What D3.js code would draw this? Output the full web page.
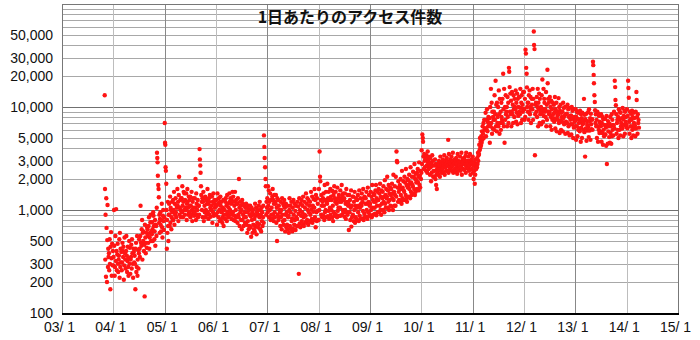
<!DOCTYPE html>
<html>
<head>
<meta charset="utf-8">
<script src="https://cdn.jsdelivr.net/npm/d3@7"></script>
<style>
  body { margin: 0; background: #fff; }
  svg { display: block; }
  .tick text { font-family: "Liberation Sans", Arial, sans-serif; font-size: 14px; fill: #111; }
</style>
</head>
<body>
<div id="chart"></div>
<script>
// daily access counts (sample days per month)
const title = '1日あたりのアクセス件数'

const counts2003 = [ // starts in Nov
  [13000, 1600, 330, 900, 225, 1300, 670, 200, 510, 1120, 280, 420, 350],
  [380, 260, 520, 300, 170, 440, 610, 340, 230, 470, 290, 400]
]
const counts2004 = [
  [290, 350, 1000, 450, 230, 280, 560, 320, 1020, 400, 260, 370],
  [470, 300, 250, 330, 360, 520, 220, 600, 280, 420, 310, 390],
  [260, 310, 480, 400, 350, 440, 210, 290, 540, 380, 330, 270],
  [400, 560, 360, 250, 320, 440, 280, 230, 340, 500, 300, 430],
  [240, 330, 350, 460, 270, 520, 380, 300, 220, 420, 390, 310],
  [360, 300, 170, 420, 480, 250, 280, 560, 230, 330, 410, 270],
  [380, 520, 420, 350, 560, 1100, 480, 450, 650, 800, 330, 600],
  [500, 620, 400, 460, 145, 720, 540, 380, 480, 600, 430, 680],
  [650, 560, 480, 700, 850, 420, 540, 600, 760, 900, 500, 620],
  [580, 760, 650, 500, 950, 880, 700, 520, 620, 800, 450, 720],
  [700, 560, 1050, 3600, 3200, 2900, 2150, 1750, 1600, 1330, 750, 900, 600, 820],
  [950, 720, 620, 800, 1150, 680, 540, 880, 1000, 780, 640, 850]
]
const counts2005 = [
  [7000, 4500, 4300, 2600, 2400, 1800, 1000, 420, 800, 600, 1200, 700, 500, 900],
  [1150, 900, 700, 1350, 750, 1050, 1000, 650, 850, 1200, 950, 800],
  [1250, 800, 1000, 1500, 720, 1150, 900, 1300, 950, 850, 1100, 1050],
  [1600, 1100, 1200, 780, 1400, 2100, 900, 1050, 1250, 1000, 850, 1300],
  [1300, 950, 1700, 1100, 850, 1200, 1500, 1000, 1450, 900, 1250, 1050],
  [1000, 1450, 800, 1150, 1600, 1200, 1050, 900, 1350, 950, 1250, 1100],
  [1350, 850, 1100, 900, 1500, 1000, 780, 1200, 1300, 950, 1050, 880],
  [950, 1300, 1050, 2000, 800, 1450, 1150, 900, 1000, 1250, 850, 1100],
  [1100, 900, 3900, 3100, 2700, 2300, 1700, 1400, 1200, 1000, 1300, 850],
  [1200, 1500, 780, 1300, 1100, 950, 1350, 850, 1000, 1250, 900, 1150],
  [1600, 950, 1150, 820, 1300, 1200, 900, 1400, 1050, 860, 1000, 1100],
  [1000, 1350, 750, 1200, 950, 1450, 880, 1150, 1250, 1050, 900, 1100]
]
const counts2006 = [
  [900, 1250, 1100, 720, 1450, 950, 1150, 850, 1300, 1000, 780, 1200],
  [1350, 1100, 800, 1200, 950, 1000, 750, 850, 1050, 1250, 700, 900],
  [1250, 1000, 820, 1200, 1300, 900, 1100, 780, 1400, 950, 1150, 850],
  [1050, 880, 1450, 1200, 1000, 1300, 950, 1150, 820, 1250, 900, 1500],
  [950, 1350, 800, 1200, 1100, 880, 1500, 780, 1000, 1250, 850, 1150],
  [1150, 750, 1300, 900, 850, 2000, 1050, 700, 1200, 950, 1100, 800],
  [1000, 650, 1250, 800, 1150, 900, 700, 1100, 850, 950, 750, 1050],
  [850, 1150, 720, 1050, 600, 950, 780, 1100, 650, 1000, 700, 900],
  [1100, 680, 870, 550, 1050, 800, 950, 600, 1000, 720, 900, 650],
  [820, 620, 1150, 700, 880, 1050, 580, 950, 750, 1000, 680, 900],
  [1100, 730, 850, 1200, 650, 1000, 900, 620, 1050, 780, 950, 700],
  [850, 1100, 750, 5300, 4100, 3200, 2600, 2000, 1700, 900, 1200, 1050]
]
const counts2007 = [
  [1300, 950, 1700, 1100, 1550, 850, 1200, 1000, 1450, 800, 1250, 900],
  [1050, 820, 1350, 1600, 900, 1250, 780, 1150, 1400, 950, 850, 1200],
  [1150, 1400, 750, 1050, 500, 1300, 900, 1250, 800, 1100, 850, 1000],
  [950, 700, 1200, 850, 1000, 650, 1300, 900, 780, 1150, 720, 1100],
  [1250, 800, 1050, 620, 900, 1150, 680, 950, 720, 1100, 650, 850],
  [880, 600, 1000, 1300, 700, 1100, 950, 650, 1200, 780, 830, 620],
  [1050, 660, 1250, 900, 720, 1150, 800, 980, 640, 1100, 850, 700],
  [820, 1200, 700, 1080, 920, 240, 1300, 740, 1000, 680, 1150, 880],
  [1250, 780, 950, 1100, 720, 1350, 850, 700, 1200, 900, 1050, 760],
  [880, 1450, 750, 1150, 800, 1300, 1000, 720, 1250, 950, 1100, 780],
  [1200, 900, 770, 1500, 1020, 820, 1350, 750, 1100, 960, 1280, 800],
  [1050, 1600, 850, 1250, 680, 1400, 950, 780, 1300, 980, 1150, 800]
]
const counts2008 = [
  [800, 1600, 1000, 3700, 2100, 1900, 1250, 900, 1400, 1100, 850, 1200],
  [1300, 880, 1450, 1100, 800, 1750, 950, 1250, 1000, 1500, 850, 1200],
  [1150, 1800, 870, 1300, 980, 1500, 820, 1250, 1050, 1600, 900, 1350],
  [1000, 1250, 840, 1530, 1100, 780, 1400, 950, 1700, 880, 1300, 1200],
  [1500, 900, 1250, 1150, 850, 1650, 980, 1300, 1050, 1400, 880, 1200],
  [1050, 1550, 880, 1300, 1200, 1750, 900, 1400, 1000, 1450, 950, 1250],
  [1300, 860, 1450, 1000, 1150, 820, 1600, 950, 1200, 900, 1400, 1100],
  [1150, 640, 1400, 950, 1250, 800, 1050, 1550, 690, 1100, 850, 1350],
  [900, 1350, 780, 1200, 1000, 1500, 750, 1100, 850, 1300, 800, 1050],
  [1250, 800, 1400, 950, 1100, 780, 1550, 880, 1050, 1300, 820, 1150],
  [1100, 1450, 830, 1200, 980, 1600, 800, 1300, 920, 1350, 850, 1150],
  [1300, 860, 1500, 1000, 1150, 820, 1650, 950, 1200, 1400, 880, 1100]
]
const counts2009 = [
  [1150, 890, 1500, 1000, 1350, 850, 1750, 1050, 1250, 900, 1450, 1200],
  [1400, 1050, 920, 1550, 1200, 1750, 890, 1300, 1100, 1500, 950, 1250],
  [1250, 1600, 950, 1450, 1100, 1800, 1000, 1350, 900, 1550, 1150, 1300],
  [1500, 1000, 1700, 1200, 1350, 950, 1950, 1150, 1400, 1050, 1600, 1300],
  [1350, 2100, 1050, 1550, 1200, 1750, 1000, 1450, 1250, 1650, 1100, 1400],
  [1600, 1080, 1800, 1300, 1450, 1000, 2200, 1250, 1500, 1100, 1700, 1400],
  [1100, 2100, 1350, 3700, 3000, 2900, 1650, 1200, 1900, 1500, 1250, 1600],
  [1750, 1200, 2000, 1400, 1600, 1150, 2400, 1300, 1650, 1250, 1900, 1550],
  [1500, 2100, 1250, 1850, 1400, 2500, 1300, 1750, 1200, 2000, 1650, 1700],
  [1950, 1350, 2200, 1600, 1800, 1300, 2600, 1500, 1850, 1400, 2100, 1750],
  [1700, 2350, 1450, 2100, 1600, 2800, 1400, 2000, 1500, 2250, 1850, 1950],
  [2300, 1600, 2500, 1850, 2100, 1550, 2900, 1750, 2150, 1650, 2400, 2000]
]
const counts2010 = [
  [2300, 3800, 2800, 5400, 5000, 4600, 3300, 2500, 3500, 3000, 2600, 3200],
  [3100, 2400, 3400, 2700, 3200, 2300, 3700, 2900, 3000, 2500, 3300, 2600],
  [2800, 2200, 3200, 2600, 1900, 2900, 2300, 3400, 2700, 3000, 2100, 2400],
  [2100, 2700, 2400, 3100, 2000, 2800, 1750, 2200, 1600, 2500, 2300, 2600],
  [2800, 2200, 3000, 2500, 2700, 2100, 3300, 2400, 2900, 2300, 2750, 2600],
  [2500, 3100, 2300, 2850, 2700, 3400, 2200, 2900, 2600, 3000, 2400, 2800],
  [3200, 2400, 2950, 2700, 4800, 2300, 3500, 2600, 2900, 2500, 3100, 2800],
  [2600, 3300, 2400, 3000, 2700, 3600, 2300, 2950, 2800, 3100, 2500, 2900],
  [3050, 2350, 3200, 2650, 2850, 2250, 3500, 2550, 3000, 2450, 2900, 2750],
  [2700, 3300, 2400, 2950, 2600, 3600, 2200, 3000, 2800, 3150, 2500, 2900],
  [3200, 2450, 3050, 2750, 3350, 2300, 3600, 2650, 2950, 2550, 3000, 2850],
  [2600, 3300, 2400, 3000, 2700, 3500, 2200, 2950, 2800, 3100, 2500, 2900]
]
const counts2011 = [
  [3300, 2300, 2700, 2000, 2900, 2400, 1800, 2200, 3100, 2600, 2500, 2800],
  [2600, 3200, 2800, 3600, 3000, 3400, 3500, 4300, 3800, 5000, 4000, 4600],
  [4200, 5200, 4500, 5800, 4800, 6500, 5500, 7000, 5000, 7500, 6000, 6200],
  [6200, 8800, 5200, 7500, 6000, 9500, 5800, 7200, 6500, 8000, 7000, 7800],
  [7800, 4500, 10000, 6500, 15000, 7000, 11000, 5500, 9000, 6200, 8000, 7500],
  [9000, 6000, 13000, 7500, 8500, 18000, 6500, 10500, 5800, 11000, 7000, 8000],
  [10000, 6500, 14500, 8500, 5500, 12000, 7000, 9000, 6000, 11000, 8000, 7500],
  [12000, 7000, 21000, 9500, 6500, 15000, 4500, 10000, 7500, 13000, 8500, 9000],
  [10000, 6500, 12500, 8000, 11000, 7000, 24000, 22000, 15600, 9000, 13500, 8500],
  [11500, 6500, 9000, 14000, 8500, 10500, 7000, 13000, 9500, 8000, 12000, 10000],
  [9500, 14500, 7200, 11000, 8800, 13500, 6800, 12000, 8200, 10000, 12500, 9000],
  [12500, 8500, 15000, 9800, 7000, 11000, 13000, 7500, 10500, 9000, 14000, 9500]
]
const counts2012 = [
  [14000, 9500, 7500, 12000, 8000, 36000, 33000, 24000, 21000, 15500, 10000, 11000, 9000],
  [11000, 7500, 13000, 9000, 14500, 8500, 10000, 12500, 7000, 9500, 12000, 10500],
  [9500, 15000, 7500, 12000, 54000, 40000, 36500, 3400, 8500, 10500, 11000, 9000],
  [12500, 8000, 10000, 15000, 6500, 11000, 9500, 13500, 7000, 12000, 8500, 9000],
  [10000, 6800, 13000, 8800, 18500, 9500, 7200, 15000, 8200, 12000, 11000, 9000],
  [9500, 8000, 14000, 6500, 10500, 7500, 23000, 17000, 12000, 9000, 11000, 8500],
  [9000, 12500, 6500, 10000, 8000, 11500, 6000, 9500, 7500, 11000, 8500, 7800],
  [10500, 7200, 8800, 12500, 6200, 9500, 7600, 11000, 5800, 9000, 8200, 7500],
  [8500, 12200, 7000, 10000, 5600, 9200, 7400, 10500, 6000, 8800, 8000, 7200],
  [9000, 5800, 11000, 7800, 9800, 6800, 8200, 10000, 5500, 8500, 7200, 7000],
  [8600, 7000, 10500, 5600, 9500, 6500, 8000, 9800, 5300, 8200, 7500, 6800],
  [8300, 5400, 10000, 6800, 9200, 7700, 5000, 9500, 6300, 8000, 7200, 6500]
]
const counts2013 = [
  [7400, 9500, 4800, 8000, 6500, 9000, 5200, 8800, 6000, 7600, 7000, 6200],
  [5800, 9200, 7200, 4600, 8500, 6300, 7800, 5000, 8800, 6800, 7400, 6000],
  [7000, 12000, 5700, 8400, 3300, 7600, 6200, 8600, 4700, 7300, 6700, 5900],
  [8900, 6400, 5100, 9500, 7300, 5900, 7800, 4800, 8600, 6800, 6100, 7500],
  [7600, 6000, 27500, 25500, 20500, 17000, 13000, 11200, 9300, 7000, 8500, 6500],
  [7500, 5000, 9000, 6500, 4600, 8600, 6000, 8200, 5600, 7200, 7000, 5800],
  [6500, 8500, 4600, 7000, 5600, 8000, 4300, 7600, 6000, 5200, 6700, 5400],
  [7700, 5400, 6300, 4200, 8200, 2800, 6700, 4400, 7300, 5800, 6500, 5100],
  [6900, 4500, 8000, 5600, 6500, 4400, 8500, 5200, 7500, 6000, 6700, 5300],
  [6600, 9000, 6200, 18000, 15600, 11700, 10400, 8500, 5500, 7000, 7500, 6000],
  [8000, 5000, 9500, 7500, 6000, 9000, 5300, 8800, 6500, 7000, 7800, 6200],
  [6200, 9800, 7600, 5200, 8200, 6700, 9200, 5500, 9000, 7200, 8000, 6400]
]
const counts2014 = [
  [6700, 9500, 6200, 8200, 18000, 15300, 12300, 7200, 5500, 9000, 7600, 6500],
  [8600, 5000, 7500, 9200, 6000, 8000, 6500, 5300, 8800, 7000, 7800, 6200],
  [6600, 5200, 9000, 6200, 14000, 11700, 8000, 5500, 8500, 7000, 7500, 6300]
]

const years = [2003, 2004, 2005, 2006, 2007, 2008, 2009, 2010, 2011, 2012, 2013, 2014]
const firstMonths = [10, 0, 0, 0, 0, 0, 0, 0, 0, 0, 0, 0]
const yearCounts = [counts2003, counts2004, counts2005, counts2006, counts2007, counts2008,
  counts2009, counts2010, counts2011, counts2012, counts2013, counts2014]

const yTicks = [100, 200, 300, 500, 1000, 2000, 3000, 5000, 10000, 20000, 30000, 50000]

const width = 700
const height = 340
const margin = { top: 4, right: 22, bottom: 27, left: 62 }
const innerW = width - margin.left - margin.right
const innerH = height - margin.top - margin.bottom

// one point per sample day, spread over its month
const points = []
years.forEach((yr, yi) => {
  yearCounts[yi].forEach((vals, mi) => {
    const m = firstMonths[yi] + mi
    const days = new Date(yr, m + 1, 0).getDate()
    vals.forEach((v, i) => {
      points.push({ date: new Date(yr, m, 1 + i * days / vals.length), value: v })
    })
  })
})

const svg = d3.select('#chart').append('svg')
  .attr('width', width)
  .attr('height', height)

const g = svg.append('g')
  .attr('transform', `translate(${margin.left},${margin.top})`)

const x = d3.scaleTime()
  .domain([new Date(2003, 0, 1), new Date(2015, 0, 1)])
  .range([0, innerW])

const y = d3.scaleLog()
  .domain([100, 100000])
  .range([innerH, 0])

// horizontal grid, 1..9 of every decade
const gridValues = d3.range(2, 5).flatMap(p => d3.range(1, 10).map(k => k * Math.pow(10, p))).concat([100000])

g.append('g')
  .selectAll('line')
  .data(gridValues)
  .join('line')
  .attr('x1', 0)
  .attr('x2', innerW)
  .attr('y1', d => Math.round(y(d)) + 0.5)
  .attr('y2', d => Math.round(y(d)) + 0.5)
  .attr('stroke', d => Number.isInteger(Math.log10(d)) ? '#707070' : '#a8a8a8')
  .attr('stroke-width', 1)

// vertical grid, one per year
const yearLines = x.ticks(d3.timeYear.every(1))
g.append('g')
  .selectAll('line')
  .data(yearLines)
  .join('line')
  .attr('x1', d => Math.round(x(d)) + 0.5)
  .attr('x2', d => Math.round(x(d)) + 0.5)
  .attr('y1', 0)
  .attr('y2', innerH)
  .attr('stroke', d => d.getFullYear() % 2 === 1 ? '#888' : '#bdbdbd')

// frame
g.append('rect')
  .attr('x', 0.5)
  .attr('y', 0.5)
  .attr('width', innerW)
  .attr('height', innerH)
  .attr('fill', 'none')
  .attr('stroke', '#777')

g.append('g')
  .selectAll('circle')
  .data(points)
  .join('circle')
  .attr('cx', d => x(d.date))
  .attr('cy', d => y(d.value))
  .attr('r', 2.2)
  .attr('fill', '#ff1414')

// x axis line
g.append('line')
  .attr('x1', 0)
  .attr('x2', innerW + 1)
  .attr('y1', innerH + 1)
  .attr('y2', innerH + 1)
  .attr('stroke', '#000')
  .attr('stroke-width', 2)

const yAxis = g.append('g')
  .call(d3.axisLeft(y).tickValues(yTicks).tickFormat(d3.format(',')).tickSize(0).tickPadding(9))
yAxis.select('.domain').remove()

const xAxis = g.append('g')
  .attr('transform', `translate(0,${innerH})`)
  .call(d3.axisBottom(x).ticks(d3.timeYear.every(1)).tickFormat(d3.timeFormat('%y/%_m')).tickSize(0).tickPadding(8))
xAxis.select('.domain').remove()
xAxis.selectAll('text')
  .attr('dx', -3)
  .attr('dy', '0.8em')
  .style('white-space', 'pre')

svg.append('text')
  .attr('x', 350)
  .attr('y', 23)
  .attr('text-anchor', 'middle')
  .style('font-family', '"Noto Sans CJK JP", sans-serif')
  .style('font-size', '16px')
  .style('font-weight', 'bold')
  .style('fill', '#111')
  .text(title)
</script>
</body>
</html>
